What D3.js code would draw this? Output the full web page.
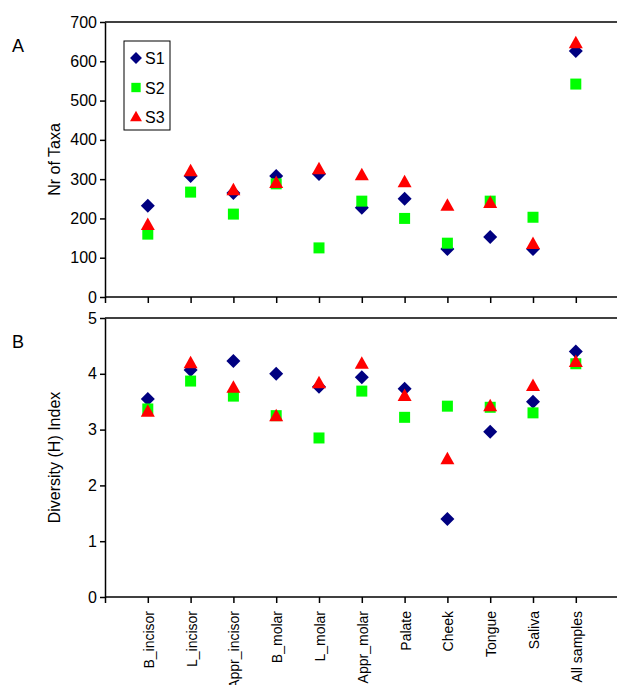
<!DOCTYPE html><html><head><meta charset="utf-8">
<script src="https://cdn.jsdelivr.net/npm/d3@7"></script>
<style>body{margin:0;background:#fff}text{font-family:"Liberation Sans",Arial,sans-serif}</style></head><body>
<svg id="c" width="617" height="685"></svg>
<script>
const categories=["B_incisor","L_incisor","Appr_incisor","B_molar","L_molar","Appr_molar","Palate","Cheek","Tongue","Saliva","All samples"];
const taxaS1=[232,308,265,308,313,227,250,122,153,122,626];
const taxaS2=[160,267,211,288,125,244,200,137,244,203,542];
const taxaS3=[183,320,272,290,325,310,292,232,239,135,646];
const divS1=[3.55,4.07,4.23,4.0,3.77,3.94,3.73,1.40,2.96,3.50,4.40];
const divS2=[3.37,3.87,3.60,3.25,2.85,3.69,3.22,3.42,3.40,3.30,4.18];
const divS3=[3.32,4.19,3.75,3.24,3.83,4.18,3.60,2.47,3.42,3.78,4.21];
const taxaTicks=[0,100,200,300,400,500,600,700];
const divTicks=[0,1,2,3,4,5];
const series=[{name:"S1",color:"#000080",sym:"dia"},{name:"S2",color:"#00ff00",sym:"sq"},{name:"S3",color:"#ff0000",sym:"tri"}];
function sym(t,s){ // s = scale factor
  if(t==="dia") return `M0,${-7*s}L${7*s},0L0,${7*s}L${-7*s},0Z`;
  if(t==="sq") return `M${-5.5*s},${-5.5*s}h${11*s}v${11*s}h${-11*s}Z`;
  return `M0,${-7.5*s}L${7*s},${5*s}L${-7*s},${5*s}Z`;
}
const svg=d3.select("#c");
const L=105,R=617,step=42.8;
const x=d3.scaleLinear().domain([-1,categories.length]).range([L,L+step*(categories.length+1)]);
function panel(top,bot,max,ticks,data,ylab,letter,showLabels){
  const y=d3.scaleLinear().domain([0,max]).range([bot,top]);
  const g=svg.append("g");
  g.append("line").attr("x1",L).attr("x2",R).attr("y1",top).attr("y2",top).attr("stroke","#000");
  const ya=g.append("g").attr("transform",`translate(${L},0)`).call(d3.axisLeft(y).tickValues(ticks).tickSize(5).tickSizeOuter(0).tickFormat(d3.format("d")));
  ya.selectAll("text").style("font-size","16px").attr("fill","#000");
  const xa=g.append("g").attr("transform",`translate(0,${bot})`).call(d3.axisBottom(x).tickValues(d3.range(-1,categories.length)).tickSize(6).tickSizeOuter(0).tickFormat(""));
  xa.select(".domain").attr("d",`M${L},0H${R}`);
  g.selectAll("path.domain,line").attr("stroke","#000").attr("stroke-width",1.5);
  g.append("text").attr("transform",`translate(${L-45},${(top+bot)/2}) rotate(-90)`).attr("text-anchor","middle").style("font-size","16px").text(ylab);
  g.append("text").attr("x",12).attr("y",top+30).style("font-size","18px").text(letter);
  series.forEach((s,k)=>{
    g.selectAll(null).data(data[k]).enter().append("path")
      .attr("d",sym(s.sym,1))
      .attr("transform",(v,i)=>`translate(${x(i)},${y(v)})`).attr("fill",s.color);
  });
  if(showLabels){
    categories.forEach((c,i)=>{
      g.append("text").attr("transform",`translate(${x(i)+6},${bot+14}) rotate(-90)`).attr("text-anchor","end").style("font-size","14px").text(c);
    });
  }
}
panel(22,297,700,taxaTicks,[taxaS1,taxaS2,taxaS3],"Nr of Taxa","A",false);
panel(318,597,5,divTicks,[divS1,divS2,divS3],"Diversity (H) Index","B",true);
const lg=svg.append("g");
lg.append("rect").attr("x",124).attr("y",41).attr("width",46).attr("height",89).attr("fill","#fff").attr("stroke","#000");
series.forEach((s,k)=>{
  const yy=58+k*29.5;
  lg.append("path").attr("d",sym(s.sym,0.85)).attr("transform",`translate(136,${yy})`).attr("fill",s.color);
  lg.append("text").attr("x",145).attr("y",yy+6).style("font-size","16px").text(s.name);
});
</script></body></html>
